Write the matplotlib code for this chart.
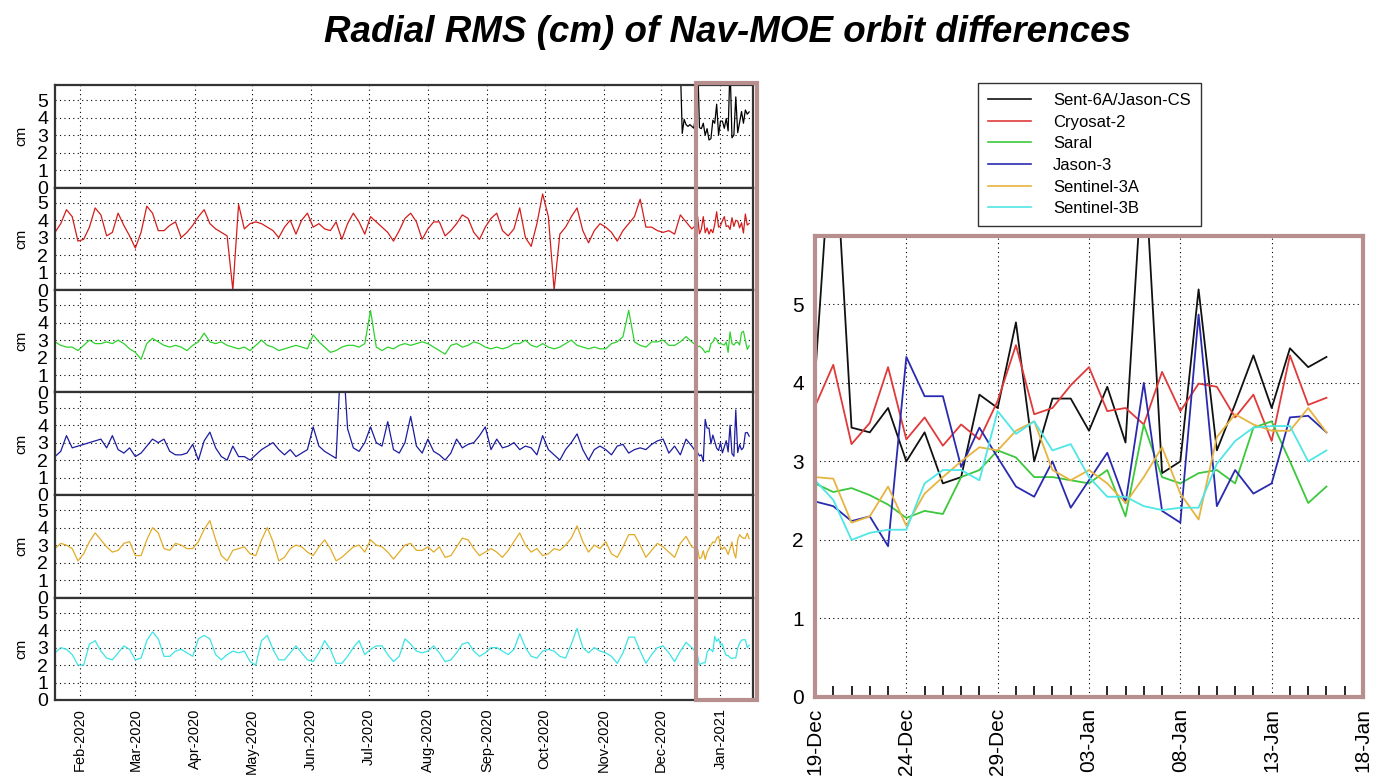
import numpy as np
import pandas as pd
import matplotlib
matplotlib.use('Agg')
import matplotlib.pyplot as plt
import matplotlib.dates as mdates
from matplotlib.patches import Rectangle
from matplotlib.lines import Line2D

plt.rcParams['font.family'] = ['Liberation Sans', 'DejaVu Sans']

# Datos: muestras cada 3 dias (19-ene-2020 .. 17-dic-2020)
fechas_3d = pd.date_range('2020-01-19', periods=112, freq='3D')
# Datos diarios del zoom (19-dic-2020 .. 16-ene-2021)
fechas_zoom = pd.date_range('2020-12-19', periods=29, freq='D')
fechas_s6_pre = pd.date_range('2020-12-11', periods=8, freq='D')

nombres = ['Sent-6A/Jason-CS', 'Cryosat-2', 'Saral', 'Jason-3', 'Sentinel-3A', 'Sentinel-3B']

s6_pre = [7.0, 3.1, 3.9, 3.6, 3.5, 3.6, 3.5, 3.4]

cryosat = [3.3, 3.8, 4.6, 4.2, 2.8, 2.9, 3.6, 4.7, 4.3, 3.1, 3.3, 4.4, 3.7, 3.1, 2.4, 3.3,
           4.8, 4.4, 3.4, 3.4, 3.7, 3.9, 3.0, 3.3, 3.7, 4.2, 4.6, 3.8, 3.5, 3.3, 3.1, 0.0,
           4.9, 3.5, 3.8, 3.9, 3.8, 3.6, 3.4, 3.0, 3.6, 4.0, 3.2, 4.0, 4.4, 3.6, 3.8, 3.5,
           3.4, 3.9, 2.9, 3.8, 4.4, 3.9, 3.2, 4.2, 3.9, 3.6, 3.3, 2.8, 3.4, 4.1, 4.4, 3.9,
           2.9, 3.5, 3.9, 3.9, 3.1, 3.4, 3.8, 4.3, 4.1, 3.3, 2.9, 3.6, 4.1, 4.4, 3.4, 3.1,
           3.5, 4.7, 3.0, 2.5, 3.8, 5.5, 4.2, 0.0, 3.2, 3.6, 4.2, 4.7, 3.4, 2.7, 3.4, 3.8,
           3.6, 3.3, 2.8, 3.4, 3.8, 4.2, 5.2, 3.6, 3.6, 3.4, 3.3, 3.4, 3.2, 4.3, 3.9, 3.5]

saral = [2.9, 2.7, 2.6, 2.6, 2.4, 2.7, 3.0, 2.8, 2.8, 2.9, 2.8, 3.0, 2.8, 2.5, 2.3, 1.9,
         2.8, 3.1, 2.9, 2.7, 2.6, 2.7, 2.6, 2.4, 2.7, 2.9, 3.4, 2.9, 2.8, 2.9, 2.7, 2.6,
         2.5, 2.6, 2.4, 2.7, 3.0, 2.7, 2.6, 2.4, 2.5, 2.6, 2.7, 2.6, 2.5, 3.3, 2.9, 2.6,
         2.3, 2.4, 2.6, 2.7, 2.7, 2.6, 2.8, 4.7, 2.6, 2.4, 2.6, 2.5, 2.7, 2.8, 2.7, 2.8,
         2.9, 2.8, 2.6, 2.4, 2.2, 2.7, 2.8, 2.6, 2.7, 2.9, 2.8, 2.6, 2.5, 2.6, 2.5, 2.6,
         2.8, 2.8, 3.0, 2.7, 2.6, 2.8, 2.6, 2.5, 2.6, 2.8, 3.0, 2.7, 2.6, 2.5, 2.6, 2.5,
         2.5, 2.8, 2.9, 3.2, 4.7, 2.9, 2.7, 2.6, 2.9, 2.9, 3.0, 2.7, 2.7, 2.9, 3.2, 2.9]

jason3 = [2.2, 2.5, 3.4, 2.7, np.nan, np.nan, np.nan, np.nan, 3.2, 2.7, 3.4, 2.6, 2.4, 2.7, 2.2, 2.4,
          2.8, 3.2, 3.0, 3.2, 2.5, 2.3, 2.3, 2.4, 2.9, 2.0, 3.1, 3.6, 2.7, 2.2, 2.0, 2.8,
          2.2, 2.2, 2.0, 2.3, 2.6, 2.8, 3.0, 2.6, 2.3, 2.6, 2.2, 2.4, 2.6, 3.9, 2.8, 2.5,
          2.3, 2.1, 9.0, 3.8, 2.7, 2.5, 3.0, 3.9, 3.0, 2.8, 4.2, 2.6, 2.4, 3.0, 4.5, 2.8,
          2.4, 3.2, 2.5, 2.3, 2.0, 2.4, 3.2, 2.7, 2.9, 3.0, 3.4, 3.9, 2.6, 3.2, 2.7, 2.8,
          3.0, 2.6, 2.8, 2.7, 2.3, 3.4, 2.6, 2.3, 2.0, 2.6, 3.0, 3.5, 2.6, 2.0, 2.6, 2.8,
          2.6, 2.3, 2.8, 2.9, 2.4, 2.6, 2.7, 2.6, 2.9, 3.1, 3.2, 2.4, 2.8, 2.3, 3.2, 2.8]

sent3a = [2.8, 3.1, 3.0, 2.8, 2.1, 2.5, 3.2, 3.7, 3.3, 2.9, 2.6, 2.7, 3.1, 3.2, 2.4, 2.4,
          3.3, 4.0, 3.7, 2.8, 2.7, 3.1, 3.0, 2.8, 2.8, 3.2, 3.9, 4.4, 3.3, 2.4, 2.1, 2.7,
          2.8, 2.9, 2.5, 2.4, 3.3, 4.0, 3.2, 2.1, 2.3, 2.8, 3.0, 2.9, 2.6, 2.4, 2.9, 3.3,
          2.8, 2.1, 2.3, 2.6, 2.9, 3.0, 2.6, 3.3, 3.0, 2.9, 2.6, 2.2, 2.6, 3.0, 3.1, 2.7,
          2.7, 2.9, 2.6, 2.9, 2.3, 2.4, 2.9, 3.4, 3.3, 2.8, 2.4, 2.6, 2.8, 2.6, 2.3, 2.7,
          3.2, 3.7, 3.0, 2.6, 2.8, 2.4, 2.5, 2.8, 2.7, 3.0, 3.4, 4.1, 3.2, 2.6, 3.0, 2.8,
          3.2, 2.5, 2.3, 2.9, 3.6, 3.6, 3.0, 2.3, 2.7, 3.1, 2.9, 2.6, 2.3, 3.1, 3.5, 2.9]

sent3b = [2.7, 3.0, 2.9, 2.6, 2.0, 2.0, 3.2, 3.4, 2.8, 2.4, 2.3, 2.7, 3.1, 2.9, 2.3, 2.4,
          3.4, 3.9, 3.5, 2.5, 2.5, 2.8, 2.9, 2.7, 2.5, 3.5, 3.7, 3.5, 2.6, 2.3, 2.6, 2.8,
          2.7, 2.8, 2.2, 2.0, 3.4, 3.7, 2.9, 2.3, 2.3, 2.7, 3.1, 2.7, 2.3, 2.2, 2.7, 3.4,
          2.9, 2.1, 2.1, 2.5, 3.0, 3.4, 2.6, 2.9, 3.1, 3.1, 2.6, 2.2, 2.5, 3.5, 3.2, 2.8,
          2.7, 2.8, 3.1, 2.7, 2.2, 2.3, 2.7, 3.2, 3.3, 2.8, 2.5, 2.7, 3.0, 3.0, 2.8, 2.6,
          2.9, 3.8, 3.0, 2.5, 2.4, 2.8, 2.9, 2.8, 2.5, 2.4, 3.2, 4.1, 3.0, 2.7, 3.0, 2.8,
          2.7, 2.5, 2.1, 2.7, 3.6, 3.6, 2.8, 2.1, 2.6, 3.0, 3.1, 2.7, 2.2, 2.8, 3.3, 3.0]

# Zoom diario
z_s6 = [4.06, 7.5, 3.43, 3.37, 3.68, 3.0, 3.37, 2.72, 2.8, 3.85, 3.68, 4.77, 3.0, 3.8, 3.8,
        3.39, 3.95, 3.24, 7.0, 2.85, 3.0, 5.19, 3.14, 3.73, 4.35, 3.68, 4.44, 4.2, 4.33]
z_cryo = [3.7, 4.23, 3.22, 3.49, 4.2, 3.28, 3.56, 3.2, 3.47, 3.28, 3.77, 4.48, 3.6, 3.68, 3.97,
          4.2, 3.64, 3.68, 3.47, 4.14, 3.64, 3.99, 3.95, 3.56, 3.85, 3.26, 4.35, 3.72, 3.81]
z_saral = [2.72, 2.61, 2.66, 2.57, 2.45, 2.28, 2.37, 2.33, 2.8, 2.89, 3.14, 3.05, 2.8, 2.8, 2.76,
           2.72, 2.89, 2.3, 3.47, 2.8, 2.72, 2.85, 2.89, 2.72, 3.43, 3.51, 3.0, 2.47, 2.68]
z_jason3 = [2.49, 2.43, 2.24, 2.3, 1.92, 4.33, 3.83, 3.83, 2.93, 3.43, 3.05, 2.68, 2.55, 3.0, 2.41,
            2.76, 3.11, 2.47, 4.0, 2.37, 2.22, 4.87, 2.43, 2.89, 2.59, 2.72, 3.56, 3.58, 3.37]
z_s3a = [2.8, 2.78, 2.22, 2.3, 2.68, 2.18, 2.59, 2.8, 3.0, 3.18, 3.14, 3.39, 3.51, 2.89, 2.76,
         2.89, 2.72, 2.47, 2.8, 3.18, 2.59, 2.26, 3.31, 3.6, 3.47, 3.39, 3.39, 3.68, 3.37]
z_s3b = [2.76, 2.51, 2.0, 2.09, 2.13, 2.13, 2.72, 2.89, 2.89, 2.76, 3.64, 3.35, 3.51, 3.14, 3.22,
         2.8, 2.55, 2.55, 2.43, 2.38, 2.41, 2.41, 2.97, 3.26, 3.43, 3.45, 3.45, 3.0, 3.14]

col_izq = ['#000000', '#d41c1c', '#2ed22e', '#1c1ca0', '#e2ac28', '#3ee4e4']
col_der = ['#111111', '#e03a3a', '#3cc83c', '#2a2ab0', '#e6b440', '#4ee6e6']
marco = '#b88f8f'

W, H = 1387, 782
fig = plt.figure(figsize=(W / 100, H / 100), dpi=100)


def caja(x0, y0, x1, y1):
    return [x0 / W, 1 - y1 / H, (x1 - x0) / W, (y1 - y0) / H]


series = [
    (fechas_s6_pre.append(fechas_zoom), s6_pre + z_s6),
    (fechas_3d.append(fechas_zoom), cryosat + z_cryo),
    (fechas_3d.append(fechas_zoom), saral + z_saral),
    (fechas_3d.append(fechas_zoom), jason3 + z_jason3),
    (fechas_3d.append(fechas_zoom), sent3a + z_s3a),
    (fechas_3d.append(fechas_zoom), sent3b + z_s3b),
]

grid_kw = dict(color='k', linestyle=(0, (1, 3)), linewidth=0.8)
x_ini = pd.Timestamp('2020-01-19')
x_fin = pd.Timestamp('2021-01-18')
alto = 102.5
ejes = []
for i, (f, v) in enumerate(series):
    y0 = 85 + i * alto
    ax = fig.add_axes(caja(55, y0, 753, y0 + alto))
    s = pd.Series(v, index=f).dropna()
    ax.plot(s.index, s.values, color=col_izq[i], lw=0.9)
    ax.set_xlim(x_ini, x_fin)
    ax.set_ylim(0, 5.87)
    ax.set_yticks(range(6))
    ax.xaxis.set_major_locator(mdates.MonthLocator())
    ax.xaxis.set_major_formatter(mdates.DateFormatter('%b-%Y'))
    ax.grid(True, **grid_kw)
    ax.tick_params(axis='both', length=0)
    ax.tick_params(axis='y', labelsize=14, pad=5)
    ax.set_ylabel('cm', fontsize=11, labelpad=6)
    for sp in ax.spines.values():
        sp.set_linewidth(1.6)
        sp.set_color('#333333')
    if i < 5:
        ax.tick_params(axis='x', labelbottom=False)
    else:
        ax.tick_params(axis='x', labelsize=10.5, rotation=90, pad=6)
    ejes.append(ax)

# recuadro del periodo ampliado
xa = ejes[0].transData.transform((mdates.date2num(pd.Timestamp('2020-12-19')), 0))[0]
xa = xa / W
fig.add_artist(Rectangle((xa, 1 - 700 / H), 757 / W - xa, (700 - 83) / H,
                         transform=fig.transFigure, fill=False, edgecolor=marco, lw=3))

# Panel derecho
axd = fig.add_axes(caja(815, 236, 1363, 697))
zoom_vals = [z_s6, z_cryo, z_saral, z_jason3, z_s3a, z_s3b]
for i, v in enumerate(zoom_vals):
    axd.plot(fechas_zoom, v, color=col_der[i], lw=1.3)
axd.set_xlim(pd.Timestamp('2020-12-19'), pd.Timestamp('2021-01-18'))
axd.set_ylim(0, 5.87)
axd.set_yticks(range(6))
axd.set_yticklabels(['0', '1', '2', '3', '4', '5'])
axd.set_xticks(pd.date_range('2020-12-19', '2021-01-18', freq='5D'))
axd.set_xticks(pd.date_range('2020-12-19', '2021-01-18', freq='D'), minor=True)
axd.xaxis.set_major_formatter(mdates.DateFormatter('%d-%b'))
axd.grid(True, which='major', **grid_kw)
axd.tick_params(axis='both', which='major', length=0)
axd.tick_params(axis='y', labelsize=15, pad=8)
axd.tick_params(axis='x', labelsize=15, rotation=90, pad=8)
axd.tick_params(axis='x', which='minor', direction='in', length=8, width=1.2, color='k')
for sp in axd.spines.values():
    sp.set_linewidth(3)
    sp.set_color(marco)

# Leyenda
manijas = [Line2D([], [], color=c, lw=1.2) for c in col_der]
fig.legend(manijas, nombres, loc='upper left', bbox_to_anchor=(978 / W, 1 - 83 / H),
           fontsize=12, frameon=True, fancybox=False, edgecolor='#333333', framealpha=1,
           handlelength=2.6, handletextpad=1.3, labelspacing=0.4, borderpad=0.6,
           borderaxespad=0)

fig.text(728 / W, 1 - 33 / H, 'Radial RMS (cm) of Nav-MOE orbit differences',
         ha='center', va='center', fontsize=26.5, fontweight='bold', fontstyle='italic')

fig.savefig('out.png', dpi=100)
